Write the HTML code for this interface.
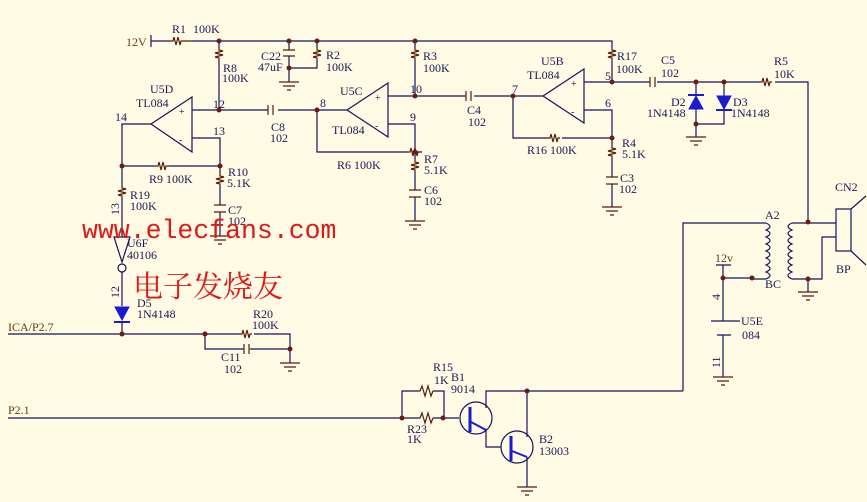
<!DOCTYPE html>
<html><head><meta charset="utf-8"><style>
html,body{margin:0;padding:0;background:#fffbe5;}
svg{display:block}
text{font-family:"Liberation Serif",serif;font-size:12px;fill:#1a1a55}
</style></head><body>
<svg width="867" height="502" viewBox="0 0 867 502" xmlns="http://www.w3.org/2000/svg">
<rect width="867" height="502" fill="#fffbe5"/>
<g fill="none" stroke="#14145a" stroke-width="1.2">
<!-- top rail -->
<path d="M151 41 H170 M192 41 H612 V48"/>
<path d="M151 35 V47"/>
<!-- R8 -->
<path d="M219 41 V48 M219 60 V110"/>
<!-- C22 / R2 -->
<path d="M289 41 V50 M289 56 V82 M289 68 H317 V60 M317 41 V48"/>
<!-- R3 -->
<path d="M415 41 V48 M415 60 V96"/>
<!-- U5D -->
<path d="M192 97 V152 L151 124 Z"/>
<path d="M192 110 H219 H268 M278 110 H317 H347"/>
<path d="M192 138 H220 V166 M151 124 H122 V166 M122 166 H156 M170 166 H220 V174 M220 186 V205 M220 212 V236"/>
<path d="M122 166 V186 M122 198 V237"/>
<!-- U5C -->
<path d="M388 83 V137 L347 110 Z"/>
<path d="M317 110 V152 H408 M422 152 H415 V160 M415 172 V190 M415 197 V221"/>
<path d="M388 124 H415 V152"/>
<path d="M388 96 H415 H466 M474 96 H543"/>
<!-- U5B -->
<path d="M584 69 V123 L543 96 Z"/>
<path d="M513 96 V138 H548 M562 138 H612 V146 M612 158 V177 M612 184 V207"/>
<path d="M584 110 H612 V138"/>
<path d="M612 60 V82 M584 82 H650 M657 82 H760 M775 82 H808 V222"/>
<!-- diodes -->
<path d="M696 82 V124 H724 V82 M696 124 V137"/>
<!-- transformer -->
<path d="M683 391 V223 H766 M766 279 H752"/>
<path d="M766 223 q8 3.5 0 7 q8 3.5 0 7 q8 3.5 0 7 q8 3.5 0 7 q8 3.5 0 7 q8 3.5 0 7 q8 3.5 0 7 q8 3.5 0 7"/>
<path d="M792 223 q-8 3.5 0 7 q-8 3.5 0 7 q-8 3.5 0 7 q-8 3.5 0 7 q-8 3.5 0 7 q-8 3.5 0 7 q-8 3.5 0 7 q-8 3.5 0 7"/>
<path d="M792 223 H836 M792 279 H822 V237 H836 M808 279 V292"/>
<rect x="836" y="209" width="15" height="42"/>
<path d="M851 209 L866 196 M851 251 L866 265"/>
<!-- 12v / U5E -->
<path d="M716 265 H731 M723 265 V321 M723 278 H752 M711 321 H740 M717 335 H731 M723 335 V377"/>
<!-- U6F -->
<path d="M114 237 H130 L122 262 Z"/>
<circle cx="122" cy="268" r="4"/>
<path d="M122 272 V306 M122 322 V334"/>
<!-- ICA -->
<path d="M8 334 H240 M254 334 H290 V363 M205 334 V349 H244 M250 349 H290"/>
<!-- P2.1 -->
<path d="M8 418 H418 M433 418 H444 M402 418 V391 H418 M433 391 H444 V418 H459"/>
<!-- transistors -->
<circle cx="476" cy="418" r="16"/>
<circle cx="517" cy="447" r="16"/>
<path d="M486 408 V391 H683 M527 391 V437 M486 430 V447 H501 M527 457 V487"/>
</g>
<!-- component symbols brownish -->
<g fill="none" stroke="#5a1a10" stroke-width="1.2">
<path d="M170 41 h3 l1 -4 2 8 2 -8 2 8 1 -4 h11"/>
<path d="M219 48 v2 l4 1 -8 2 8 2 -8 2 4 1 v2"/>
<path d="M317 48 v2 l4 1 -8 2 8 2 -8 2 4 1 v2"/>
<path d="M415 48 v2 l4 1 -8 2 8 2 -8 2 4 1 v2"/>
<path d="M612 48 v2 l4 1 -8 2 8 2 -8 2 4 1 v2"/>
<path d="M283 50 H295 M283 56 H295"/>
<path d="M268 105 V115 M273 105 V115"/>
<path d="M466 91 V101 M471 91 V101"/>
<path d="M650 77 V87 M655 77 V87"/>
<path d="M156 166 h2 l1 -4 2 8 2 -8 2 8 1 -4 h4"/>
<path d="M408 152 h2 l1 -4 2 8 2 -8 2 8 1 -4 h2"/>
<path d="M548 138 h2 l1 -4 2 8 2 -8 2 8 1 -4 h2"/>
<path d="M760 82 h2 l1 -4 2 8 2 -8 2 8 1 -4 h2"/>
<path d="M240 334 h2 l1 -4 2 8 2 -8 2 8 1 -4 h2"/>
<path d="M244 344 V354 M249 344 V354"/>
<path d="M418 391 h2 l2 -5 3 10 3 -10 3 10 2 -5 h0 M418 418 h2 l2 -5 3 10 3 -10 3 10 2 -5"/>
<path d="M220 174 v2 l4 1 -8 2 8 2 -8 2 4 1 v2"/>
<path d="M122 186 v2 l4 1 -8 2 8 2 -8 2 4 1 v2"/>
<path d="M415 160 v2 l4 1 -8 2 8 2 -8 2 4 1 v2"/>
<path d="M612 146 v2 l4 1 -8 2 8 2 -8 2 4 1 v2"/>
<path d="M214 205 H226 M214 212 H226 M409 190 H421 M409 197 H421 M606 177 H618 M606 184 H618"/>
<!-- grounds -->
<path d="M279 82 h20 M283 86 h12 M287 90 h4"/>
<path d="M210 236 h20 M214 240 h12 M218 244 h4"/>
<path d="M405 221 h20 M409 225 h12 M413 229 h4"/>
<path d="M602 207 h20 M606 211 h12 M610 215 h4"/>
<path d="M686 137 h20 M690 141 h12 M694 145 h4"/>
<path d="M798 292 h20 M802 296 h12 M806 300 h4"/>
<path d="M713 377 h20 M717 381 h12 M721 385 h4"/>
<path d="M280 363 h20 M284 367 h12 M288 371 h4"/>
<path d="M517 487 h20 M521 491 h12 M525 495 h4"/>
</g>
<!-- blue parts -->
<g fill="#1a1ad0" stroke="#1a1ad0" stroke-width="2">
<path d="M689 109 H703 L696 96 Z" stroke-width="1"/><path d="M688 95 H704"/>
<path d="M717 96 H731 L724 109 Z" stroke-width="1"/><path d="M716 110 H732"/>
<path d="M115 307 H129 L122 320 Z" stroke-width="1"/><path d="M114 322 H130"/>
<path d="M470 407 V432 M511 436 V461" stroke-width="3"/>
<path d="M471 422 L486 430 M512 451 L527 457" stroke-width="2"/>
</g>
<!-- nodes -->
<g fill="#6b1a1a">
<circle cx="219" cy="41" r="2.5"/><circle cx="289" cy="41" r="2.5"/><circle cx="317" cy="41" r="2.5"/><circle cx="415" cy="41" r="2.5"/>
<circle cx="289" cy="68" r="2.5"/><circle cx="219" cy="110" r="2.5"/><circle cx="317" cy="110" r="2.5"/><circle cx="415" cy="96" r="2.5"/>
<circle cx="513" cy="96" r="2.5"/><circle cx="612" cy="82" r="2.5"/><circle cx="696" cy="82" r="2.5"/><circle cx="724" cy="82" r="2.5"/>
<circle cx="696" cy="124" r="2.5"/><circle cx="122" cy="166" r="2.5"/><circle cx="220" cy="166" r="2.5"/><circle cx="415" cy="152" r="2.5"/>
<circle cx="612" cy="138" r="2.5"/><circle cx="808" cy="222" r="2.5"/><circle cx="808" cy="279" r="2.5"/><circle cx="723" cy="278" r="2.5"/>
<circle cx="752" cy="278" r="2.5"/><circle cx="122" cy="334" r="2.5"/><circle cx="205" cy="334" r="2.5"/><circle cx="290" cy="349" r="2.5"/>
<circle cx="402" cy="418" r="2.5"/><circle cx="443" cy="418" r="2.5"/><circle cx="527" cy="391" r="2.5"/>
</g>
<!-- labels -->
<text x="126" y="46" fill="#5a2a10" style="fill:#6a3a10">12V</text>
<text x="172" y="33">R1</text><text x="193" y="33">100K</text>
<text x="223" y="72">R8</text><text x="222" y="82">100K</text>
<text x="261" y="60">C22</text><text x="258" y="71">47uF</text>
<text x="326" y="59">R2</text><text x="326" y="71">100K</text>
<text x="423" y="60">R3</text><text x="423" y="72">100K</text>
<text x="150" y="93">U5D</text><text x="136" y="107">TL084</text>
<text x="115" y="121">14</text><text x="213" y="108">12</text><text x="213" y="135">13</text>
<text x="179" y="115" style="font-size:10px">+</text><text x="179" y="143" style="font-size:10px">-</text>
<text x="271" y="131">C8</text><text x="270" y="142">102</text>
<text x="149" y="183">R9 100K</text>
<text x="228" y="176">R10</text><text x="227" y="187">5.1K</text>
<text x="130" y="199">R19</text><text x="130" y="210">100K</text>
<text x="228" y="214">C7</text><text x="228" y="225">102</text>
<text x="320" y="107">8</text><text x="340" y="95">U5C</text><text x="332" y="134">TL084</text>
<text x="375" y="101" style="font-size:10px">+</text><text x="375" y="129" style="font-size:10px">-</text>
<text x="410" y="93">10</text><text x="410" y="121">9</text>
<text x="337" y="169">R6 100K</text>
<text x="424" y="163">R7</text><text x="424" y="174">5.1K</text>
<text x="424" y="194">C6</text><text x="424" y="205">102</text>
<text x="467" y="114">C4</text><text x="468" y="126">102</text>
<text x="512" y="93">7</text><text x="541" y="65">U5B</text><text x="527" y="79">TL084</text>
<text x="571" y="87" style="font-size:10px">+</text><text x="571" y="115" style="font-size:10px">-</text>
<text x="605" y="80">5</text><text x="605" y="107">6</text>
<text x="527" y="154">R16 100K</text>
<text x="617" y="60">R17</text><text x="616" y="73">100K</text>
<text x="622" y="147">R4</text><text x="622" y="158">5.1K</text>
<text x="620" y="182">C3</text><text x="619" y="193">102</text>
<text x="661" y="64">C5</text><text x="661" y="77">102</text>
<text x="671" y="106">D2</text><text x="647" y="117">1N4148</text>
<text x="733" y="106">D3</text><text x="731" y="117">1N4148</text>
<text x="774" y="65">R5</text><text x="774" y="78">10K</text>
<text x="835" y="191">CN2</text><text x="765" y="219">A2</text>
<text x="836" y="273">BP</text><text x="765" y="288">BC</text>
<text x="715" y="262" style="fill:#6a3a10">12v</text>
<text x="741" y="325">U5E</text><text x="742" y="339">084</text>
<text x="127" y="247">U6F</text><text x="127" y="259">40106</text>
<text x="137" y="307">D5</text><text x="137" y="318">1N4148</text>
<text x="8" y="331" style="fill:#6a3a10">ICA/P2.7</text>
<text x="253" y="318">R20</text><text x="252" y="329">100K</text>
<text x="221" y="361">C11</text><text x="224" y="373">102</text>
<text x="8" y="414" style="fill:#6a3a10">P2.1</text>
<text x="433" y="371">R15</text><text x="434" y="384">1K</text>
<text x="451" y="381">B1</text><text x="451" y="393">9014</text>
<text x="407" y="433">R23</text><text x="407" y="443">1K</text>
<text x="539" y="443">B2</text><text x="539" y="455">13003</text>
<g style="font-size:11px">
<text transform="translate(119 215) rotate(-90)">13</text>
<text transform="translate(119 298) rotate(-90)">12</text>
<text transform="translate(720 300) rotate(-90)">4</text>
<text transform="translate(720 368) rotate(-90)">11</text>
</g>
<text x="82" y="238" style="font-family:'Liberation Mono',monospace;font-size:26.5px;fill:#e01818">www.elecfans.com</text>
<text x="133" y="297" style="font-family:'Noto Serif CJK SC','Noto Sans CJK SC',serif;font-size:30px;fill:#e01818">电子发烧友</text>
</svg>
</body></html>
